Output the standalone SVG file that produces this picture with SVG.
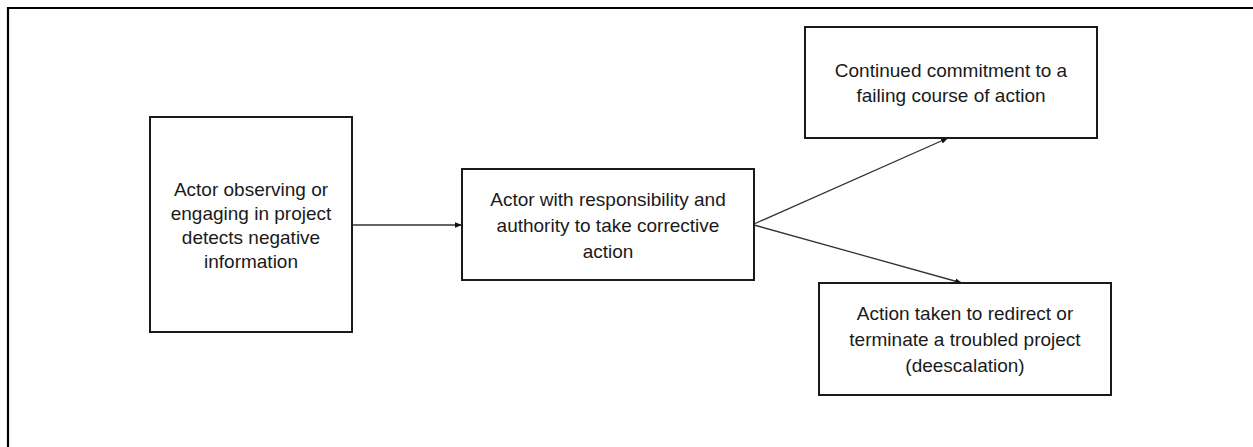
<svg xmlns="http://www.w3.org/2000/svg" width="1253" height="447" viewBox="0 0 1253 447">
  <style>
    .box { fill: #ffffff; stroke: #1a1a1a; stroke-width: 2; }
    .frame { fill: none; stroke: #000000; stroke-width: 2.2; }
    .label { font-family: "Liberation Sans", Arial, sans-serif; font-size: 19px; fill: #1a1a1a; text-anchor: middle; }
    .link { stroke: #333333; stroke-width: 1.3; fill: none; marker-end: url(#head); }
  </style>
  <defs>
    <marker id="head" viewBox="0 0 10 10" refX="10" refY="5" markerWidth="7" markerHeight="7" markerUnits="userSpaceOnUse" orient="auto">
      <path d="M0,1 L10,5 L0,9 Z" fill="#111111"/>
    </marker>
  </defs>

  <rect x="0" y="0" width="1253" height="447" fill="#ffffff"/>
  <path class="frame" d="M8,447 V8 H1253"/>

  <g id="connectors">
    <line class="link" x1="352" y1="225" x2="462" y2="225"/>
    <line class="link" x1="754" y1="224" x2="948" y2="138"/>
    <line class="link" x1="754" y1="225" x2="962" y2="283"/>
  </g>

  <g id="detect">
    <rect class="box" x="150" y="117" width="202" height="215"/>
    <text class="label" x="251" y="196">Actor observing or</text>
    <text class="label" x="251" y="220">engaging in project</text>
    <text class="label" x="251" y="244">detects negative</text>
    <text class="label" x="251" y="268">information</text>
  </g>

  <g id="responsible">
    <rect class="box" x="462" y="169" width="292" height="111"/>
    <text class="label" x="608" y="206">Actor with responsibility and</text>
    <text class="label" x="608" y="232">authority to take corrective</text>
    <text class="label" x="608" y="258">action</text>
  </g>

  <g id="escalation">
    <rect class="box" x="805" y="27" width="292" height="111"/>
    <text class="label" x="951" y="77">Continued commitment to a</text>
    <text class="label" x="951" y="102">failing course of action</text>
  </g>

  <g id="deescalation">
    <rect class="box" x="819" y="283" width="292" height="112"/>
    <text class="label" x="965" y="320">Action taken to redirect or</text>
    <text class="label" x="965" y="346">terminate a troubled project</text>
    <text class="label" x="965" y="372">(deescalation)</text>
  </g>
</svg>
